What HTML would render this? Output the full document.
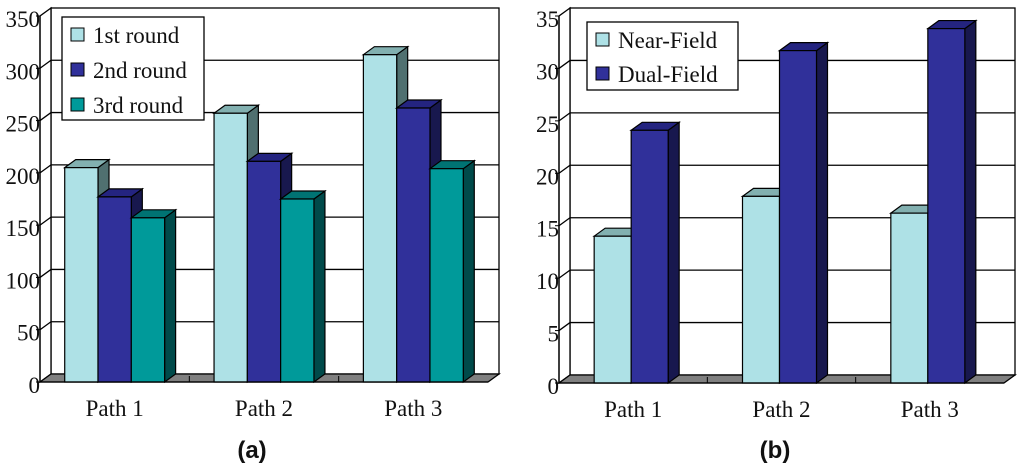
<!DOCTYPE html>
<html><head><meta charset="utf-8"><style>
body{margin:0;background:#fff;width:1024px;height:466px;overflow:hidden}
svg text{font-family:"Liberation Serif",serif;fill:#111}
</style></head><body>
<svg id="s" width="1024" height="466" viewBox="0 0 1024 466"></svg>
<script>
const categories=["Path 1","Path 2","Path 3"];
const roundNames=["1st  round","2nd round","3rd round"];
const round1=[205,257,313];
const round2=[177,211,262];
const round3=[157,175,204];
const yTicksA=[0,50,100,150,200,250,300,350];
const fieldNames=["Near-Field","Dual-Field"];
const nearField=[14.0,17.8,16.2];
const dualField=[24.1,31.7,33.8];
const yTicksB=[0,5,10,15,20,25,30,35];

const NS="http://www.w3.org/2000/svg";
const svg=document.getElementById('s');
function el(t,a,p){const e=document.createElementNS(NS,t);for(const k in a)e.setAttribute(k,a[k]);(p||svg).appendChild(e);return e;}
const DX=11,DY=8;
function chart(o){
  const g=el('g',{});
  
  
  const x0=o.x0,x1=o.x1,base=o.base,top=8,maxV=o.ticks[o.ticks.length-1];
  const yF=v=>base-(v/maxV)*(base-DY-top);
  el('rect',{x:x0+DX,y:top,width:x1-x0,height:base-DY-top,fill:'#fff',stroke:'#000','stroke-width':1.3},g);
  el('polygon',{points:`${x0},${base} ${x0+DX},${base-DY} ${x0+DX},${top} ${x0},${top+DY}`,fill:'#fff',stroke:'#000','stroke-width':1.3},g);
  const fl=el('polygon',{points:`${x0},${base} ${x0+DX},${base-DY} ${x1+DX},${base-DY} ${x1},${base}`,fill:'#808080',stroke:'#000','stroke-width':1.3},g);
  
  o.ticks.forEach(t=>{
    const y=yF(t)-DY;
    if(t>0&&t<maxV){const gl=el('polyline',{points:`${x0},${y+DY} ${x0+DX},${y} ${x1+DX},${y}`,fill:'none',stroke:'#000','stroke-width':1.3},g);
      }
    const tx=el('text',{x:x0,y:yF(t)+11,'text-anchor':'end','font-size':23},g);
    tx.textContent=t;
    
    el('line',{x1:x0-4,x2:x0,y1:yF(t),y2:yF(t),stroke:'#000'},g);
  });
  el('line',{x1:x0,y1:base,x2:x0,y2:top+DY,stroke:'#000','stroke-width':1.3},g);
  const gw=(x1-x0)/categories.length;
  categories.forEach((c,i)=>{
    if(i>0){el('line',{x1:x0+gw*i,x2:x0+gw*i,y1:base,y2:base-DY/2-2,stroke:'#000'},g);}
    const tx=el('text',{x:x0+gw*(i+0.5),y:base+34,'text-anchor':'middle','font-size':23},g);
    tx.textContent=c;
    
    const n=o.series.length,bw=o.bw;
    const start=x0+gw*(i+0.5)-n*bw/2+o.shift;
    o.series.forEach((s,j)=>{
      const bx=start+j*bw,by=yF(s.vals[i]);
      const bar=el('g',{},g);
      
      
      el('polygon',{points:`${bx+bw},${base} ${bx+bw+DX},${base-DY} ${bx+bw+DX},${by-DY} ${bx+bw},${by}`,fill:s.side,stroke:'#000','stroke-width':1.2},bar);
      el('polygon',{points:`${bx},${by} ${bx+DX},${by-DY} ${bx+bw+DX},${by-DY} ${bx+bw},${by}`,fill:s.top,stroke:'#000','stroke-width':1.2},bar);
      el('rect',{x:bx,y:by,width:bw,height:base-by,fill:s.fill,stroke:'#000','stroke-width':1.2},bar);
    });
  });
  el('line',{x1:x0,y1:base,x2:x1,y2:base,stroke:'#000','stroke-width':1.3},g);
  const L=o.legend;
  const lg=el('g',{},g);
  
  el('rect',{x:L.x,y:L.y,width:L.w,height:L.h,fill:'#fff',stroke:'#000','stroke-width':1.3},lg);
  o.series.forEach((s,j)=>{
    const e=el('g',{},lg);
    
    const yy=L.y+L.first+j*L.step;
    el('rect',{x:L.x+9,y:yy-15,width:13,height:13,fill:s.fill,stroke:'#000'},e);
    const t=el('text',{x:L.x+31,y:yy,'font-size':23},e);t.textContent=s.name;
  });
  const cap=el('text',{x:o.cap,y:458,'text-anchor':'middle','font-size':24,'font-weight':'bold',style:'font-family:"Liberation Sans",sans-serif'},g);
  cap.textContent=o.capText;
  
}
const light={fill:'#aee1e6',top:'#82b0b0',side:'#507070'};
const dark={fill:'#30309a',top:'#242480',side:'#18184e'};
const teal={fill:'#009a9a',top:'#007373',side:'#004a4a'};
chart({name:'chart-a',x0:40,x1:488,base:382,ticks:yTicksA,bw:33.3,shift:0,capText:'(a)',cap:252,
  series:[Object.assign({vals:round1,name:roundNames[0],key:'round1'},light),Object.assign({vals:round2,name:roundNames[1],key:'round2'},dark),Object.assign({vals:round3,name:roundNames[2],key:'round3'},teal)],
  legend:{x:62,y:17,w:142,h:103,first:26,step:35}});
chart({name:'chart-b',x0:559,x1:1004,base:383,ticks:yTicksB,bw:37,shift:-2,capText:'(b)',cap:775,
  series:[Object.assign({vals:nearField,name:fieldNames[0],key:'near'},light),Object.assign({vals:dualField,name:fieldNames[1],key:'dual'},dark)],
  legend:{x:587,y:22,w:151,h:68,first:26,step:34}});
</script>
</body></html>
